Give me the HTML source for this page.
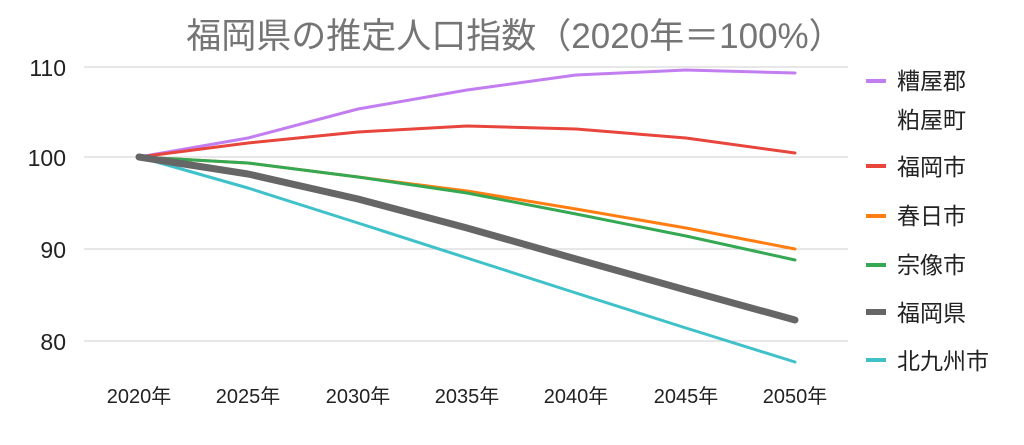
<!DOCTYPE html>
<html><head><meta charset="utf-8"><style>
body{margin:0;background:#fff;}
svg text{font-family:"Liberation Sans","Noto Sans CJK JP",sans-serif;}
</style></head><body>
<svg width="1024" height="440" viewBox="0 0 1024 440" xmlns="http://www.w3.org/2000/svg">
<rect width="1024" height="440" fill="#fff"/>
<text x="515" y="48" font-size="35" fill="#757575" text-anchor="middle">福岡県の推定人口指数（2020年＝100%）</text>
<g stroke="#cfcfcf" stroke-width="1">
<line x1="84" y1="67" x2="848" y2="67"/>
<line x1="84" y1="157" x2="848" y2="157"/>
<line x1="84" y1="249" x2="848" y2="249"/>
<line x1="84" y1="341" x2="848" y2="341"/>
</g>
<g font-size="23" fill="#222" text-anchor="end">
<text x="66" y="76">110</text>
<text x="66" y="166">100</text>
<text x="66" y="258">90</text>
<text x="66" y="350">80</text>
</g>
<g font-size="20" fill="#222" text-anchor="middle">
<text x="139" y="403">2020年</text>
<text x="248" y="403">2025年</text>
<text x="358" y="403">2030年</text>
<text x="467" y="403">2035年</text>
<text x="576" y="403">2040年</text>
<text x="686" y="403">2045年</text>
<text x="795" y="403">2050年</text>
</g>
<g fill="none" stroke-linejoin="round" stroke-linecap="round">
<polyline stroke="#c27ef0" stroke-width="3" points="139,157 248,138 358,109 467,90 576,75 686,70 795,73"/>
<polyline stroke="#e8453c" stroke-width="3" points="139,157 248,143 358,132 467,126 576,129 686,138 795,153"/>
<polyline stroke="#ff7d11" stroke-width="3" points="139,157 248,163 358,177 467,191 576,209 686,228 795,249"/>
<polyline stroke="#34a853" stroke-width="3" points="139,157 248,163 358,177 467,193 576,214 686,236 795,260"/>
<polyline stroke="#3fc1c9" stroke-width="3" points="139,157 248,188 358,223 467,258 576,293 686,328 795,362"/>
<polyline stroke="#666" stroke-width="7" points="139,157 248,174 358,199 467,228 576,259 686,290 795,320"/>
</g>
<g stroke-width="4">
<line x1="866" y1="81" x2="886" y2="81" stroke="#c27ef0"/>
<line x1="866" y1="166" x2="886" y2="166" stroke="#e8453c"/>
<line x1="866" y1="216" x2="886" y2="216" stroke="#ff7d11"/>
<line x1="866" y1="265" x2="886" y2="265" stroke="#34a853"/>
<line x1="866" y1="312" x2="886" y2="312" stroke="#666" stroke-width="6"/>
<line x1="866" y1="360" x2="886" y2="360" stroke="#3fc1c9"/>
</g>
<g font-size="23" fill="#222">
<text x="897" y="89">糟屋郡</text>
<text x="897" y="128">粕屋町</text>
<text x="897" y="175">福岡市</text>
<text x="897" y="224">春日市</text>
<text x="897" y="273">宗像市</text>
<text x="897" y="321">福岡県</text>
<text x="897" y="369">北九州市</text>
</g>
</svg>
</body></html>
